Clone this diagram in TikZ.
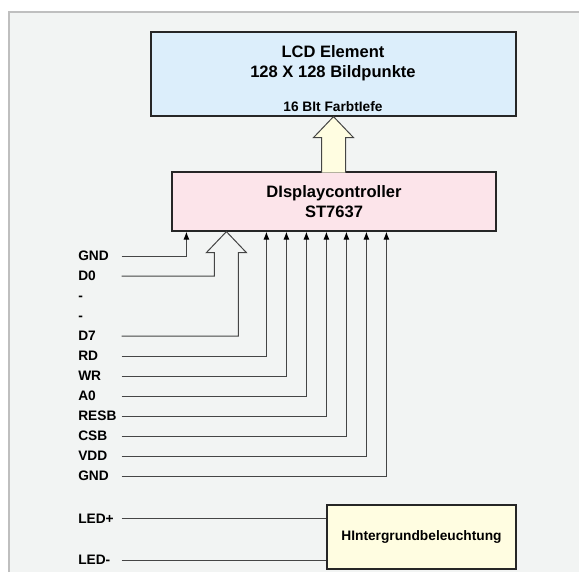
\documentclass[tikz,border=0pt]{standalone}
\usepackage{fontspec}
\setmainfont{Liberation Sans}
\usetikzlibrary{arrows.meta,calc,shadows}

\definecolor{panelgray}{HTML}{F2F4F3}
\definecolor{lcdblue}{HTML}{DCEEFB}
\definecolor{ctrlpink}{HTML}{FCE4EA}
\definecolor{lightcream}{HTML}{FFFDE1}
\definecolor{wiregray}{HTML}{454545}

\newcommand{\bigtext}{\fontsize{12.4}{15}\selectfont\bfseries}
\newcommand{\smalltext}{\fontsize{10.3}{12}\selectfont\bfseries}

\begin{document}
\begin{tikzpicture}[x=0.75pt,y=-0.75pt,
    box/.style={draw=black!85, line width=0.9pt, inner sep=0pt,
        drop shadow={shadow xshift=1pt, shadow yshift=-1pt, fill=black!22}},
    pinlabel/.style={anchor=west, inner xsep=0pt, inner ysep=1pt, text width=32.25pt,
        text height=7.4pt, text depth=0pt, align=left, font=\smalltext},
    wire/.style={draw=wiregray, line width=0.75pt},
    pin/.style={wire, -{Latex[length=6pt,width=4.5pt,color=black]}}]

    % background panel
    \useasboundingbox (0,0) rectangle (579,572);
    \fill[white] (0,0) rectangle (579,572);
    \fill[panelgray] (9,12) rectangle (579,572);
    \draw[black!25, line width=1.1pt] (9,572) -- (9,12) -- (579,12);

    % the three blocks
    \node[box, fill=lcdblue, minimum width=273.75pt, minimum height=63pt] (lcd) at (333.5,74) {};
    \node[font=\bigtext, align=center] (lcdtitle) at (333,63) {LCD Element\\128 X 128 Bildpunkte};
    \node[font=\smalltext] (lcdbits) at (333,107) {16 BIt FarbtIefe};

    \node[box, fill=ctrlpink, minimum width=243pt, minimum height=44.25pt,
        font=\bigtext, align=center] (ctrl) at (334,201.5) {DIsplaycontroller\\ST7637};

    \node[box, fill=lightcream, minimum width=141.75pt, minimum height=48pt,
        font=\smalltext] (bl) at (421.5,537) {HIntergrundbeleuchtung};

    % controller -> LCD, 16 bit
    \filldraw[wire, fill=lightcream] ($(lcd.south)+(-12,56)$) -- ++(0,-35) -- ++(-8,0)
        -- (lcd.south) -- ++(20,21) -- ++(-8,0) -- ++(0,35);

    % pin names
    \foreach \name/\y/\txt in {gnda/256/GND, dzero/276/D0, dasha/296/-, dashb/316/-,
        dseven/336/D7, rd/356/RD, wr/376/WR, azero/396/A0, resb/416/RESB,
        csb/436/CSB, vdd/456/VDD, gndb/476/GND, ledp/518.5/LED+, ledm/560/LED-}
        \node[pinlabel] (\name) at (78,\y) {\txt};

    % single pins into the controller
    \foreach \name/\dx in {gnda/15, rd/95, wr/115, azero/135, resb/155, csb/175, vdd/195, gndb/215}
        \draw[pin] (\name.east) -| ($(ctrl.south west)+(\dx,0)$);

    % data bus D0..D7
    \draw[wire] (dzero.east) -| ($(ctrl.south west)+(43,21)$) -- ++(-8,0)
        -- ($(ctrl.south west)+(55,0)$) -- ($(ctrl.south west)+(75,21)$) -- ++(-8,0)
        |- (dseven.east);

    % backlight
    \draw[wire] (ledp.east) -- (ledp.east -| bl.west);
    \draw[wire] (ledm.east) -- (ledm.east -| bl.west);

\end{tikzpicture}
\end{document}
